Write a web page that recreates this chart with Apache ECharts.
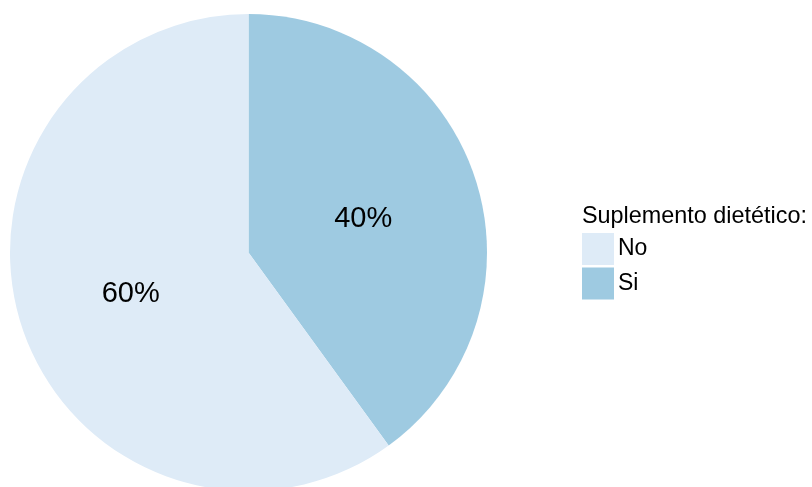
<!DOCTYPE html>
<html>
<head>
<meta charset="utf-8">
<script src="https://cdn.jsdelivr.net/npm/echarts@6/dist/echarts.min.js"></script>
<style>
  html, body { margin: 0; padding: 0; background: #ffffff; }
  #chart { width: 812px; height: 487px; }
</style>
</head>
<body>
<div id="chart"></div>
<script>
// Share of respondents taking a dietary supplement (percent)
const categories = ['Si', 'No'];
const shares = [40, 60];
const colors = { No: '#DEEBF7', Si: '#9ECAE1' };
const legendOrder = ['No', 'Si'];
const legendTitle = 'Suplemento dietético:';

const chart = echarts.init(document.getElementById('chart'), null, { renderer: 'canvas' });

const pieData = categories.map((name, i) => ({
  name: name,
  value: shares[i],
  itemStyle: { color: colors[name] }
}));

chart.setOption({
  animation: false,
  backgroundColor: '#ffffff',
  title: {
    text: legendTitle,
    left: 577,
    top: 200,
    textStyle: {
      fontFamily: 'Liberation Sans, Arial, sans-serif',
      fontSize: 23.4,
      fontWeight: 'normal',
      color: '#000000'
    }
  },
  legend: {
    data: legendOrder,
    orient: 'vertical',
    left: 582,
    top: 233,
    padding: 0,
    itemWidth: 32,
    itemHeight: 32,
    itemGap: 2.5,
    icon: 'rect',
    selectedMode: false,
    textStyle: {
      fontFamily: 'Liberation Sans, Arial, sans-serif',
      fontSize: 23,
      color: '#000000',
      padding: [5, 0, 0, -1]
    }
  },
  series: [{
    type: 'pie',
    center: [248.5, 252.5],
    radius: 238.5,
    startAngle: 90,
    clockwise: true,
    silent: true,
    data: pieData,
    itemStyle: { borderWidth: 0 },
    label: {
      show: true,
      position: 'inner',
      formatter: '{c}%',
      fontFamily: 'Liberation Sans, Arial, sans-serif',
      fontSize: 29,
      color: '#000000',
      offset: [-1.5, 4]
    },
    labelLine: { show: false },
    emphasis: { disabled: true }
  }]
});
</script>
</body>
</html>
